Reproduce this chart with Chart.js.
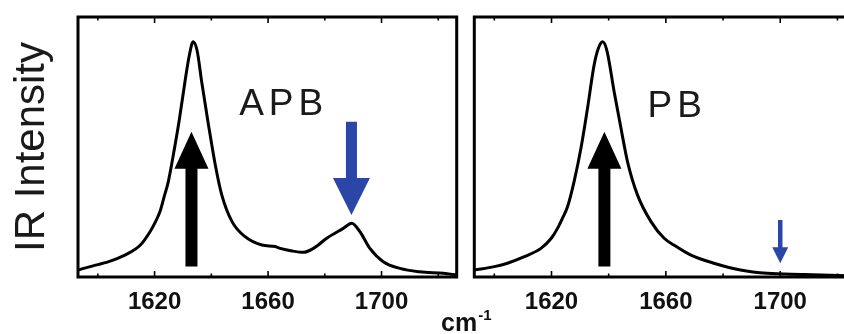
<!DOCTYPE html>
<html>
<head>
<meta charset="utf-8">
<script src="https://cdn.jsdelivr.net/npm/chart.js@4.4.0/dist/chart.umd.min.js"></script>
<style>
  body { margin: 0; background: #fff; overflow: hidden; width: 844px; height: 334px; position: relative; }
  #leftBox { position: absolute; left: 0; top: 0; width: 466px; height: 334px; }
  #rightBox { position: absolute; left: 466px; top: 0; width: 400px; height: 334px; }
  #xTitle { position: absolute; left: 441px; top: 310px; font: bold 25px "Liberation Sans", Arial, sans-serif; line-height: 25px; color: #111; white-space: nowrap; }
  #xTitle sup { font-size: 15px; vertical-align: baseline; position: relative; top: -11px; margin-left: 1px; }
</style>
</head>
<body>
<div id="leftBox"><canvas id="apbChart"></canvas></div>
<div id="rightBox"><canvas id="pbChart"></canvas></div>
<div id="xTitle">cm<sup>-1</sup></div>
<script>
const xMin = 1593;
const xMax = 1726.5;
const tickValues = [1600, 1620, 1640, 1660, 1680, 1700, 1720];
const tickLabels = [1620, 1660, 1700];

// APB spectrum (left panel)
const apbWavenumber = [1593, 1598, 1603.8, 1609.7, 1615.0, 1618.5, 1620.2, 1622.0, 1623.4, 1624.8,
  1626.9, 1628.7, 1630.8, 1632.2, 1633.6, 1635.0, 1636.6, 1639.0, 1641.4, 1643.7,
  1647.3, 1651.9, 1657.8, 1662.5, 1664.3, 1668.5, 1672.5, 1676.0, 1680.7, 1686.5,
  1689.5, 1692.4, 1695.9, 1700.6, 1706.5, 1713.5, 1721.8, 1726.5];
const apbIntensity = [0.027, 0.042, 0.059, 0.085, 0.123, 0.176, 0.21, 0.255, 0.31, 0.365,
  0.488, 0.604, 0.758, 0.85, 0.905, 0.87, 0.751, 0.585, 0.431, 0.315,
  0.213, 0.155, 0.123, 0.117, 0.110, 0.100, 0.095, 0.110, 0.149, 0.187,
  0.207, 0.174, 0.110, 0.059, 0.033, 0.020, 0.014, 0.008];

// PB spectrum (right panel)
const pbWavenumber = [1593, 1600, 1604.6, 1610.5, 1616.3, 1620.0, 1622.1, 1623.7, 1625.6, 1627.9,
  1630.3, 1632.6, 1634.9, 1636.4, 1637.9, 1639.4, 1641.9, 1644.3, 1646.6, 1650.1,
  1654.8, 1659.4, 1662.8, 1668.6, 1676.8, 1686.1, 1695.4, 1708.3, 1726.5];
const pbIntensity = [0.027, 0.040, 0.053, 0.078, 0.110, 0.150, 0.187, 0.223, 0.27, 0.367,
  0.495, 0.649, 0.815, 0.88, 0.905, 0.87, 0.713, 0.572, 0.443, 0.315,
  0.213, 0.149, 0.123, 0.085, 0.053, 0.027, 0.014, 0.010, 0.004];

// arrows: wavenumber, tail height, tip height
const apbArrowX = [1633.0, 1689.4];
const apbArrowTail = [0.04, 0.597];
const apbArrowTip = [0.559, 0.238];
const pbArrowX = [1638.5, 1700];
const pbArrowTail = [0.04, 0.219];
const pbArrowTip = [0.559, 0.053];

// panel names and where they sit
const panelLabels = ["APB", "PB"];
const panelLabelX = [1665.5, 1664.0];
const panelLabelY = [0.623, 0.615];

Chart.defaults.font.family = "'Liberation Sans', Arial, sans-serif";

const blackArrow = { color: "#000", shaft: 12, head: 34, headLen: 37 };
const blueArrow = { color: "#2a47a8", shaft: 11, head: 37, headLen: 37 };
const smallBlueArrow = { color: "#2a47a8", shaft: 4.5, head: 16, headLen: 16 };

function drawArrow(ctx, x, yTail, yTip, s) {
  const dir = yTip < yTail ? -1 : 1;
  const yBase = yTip - dir * s.headLen;
  ctx.beginPath();
  ctx.moveTo(x - s.shaft / 2, yTail);
  ctx.lineTo(x - s.shaft / 2, yBase);
  ctx.lineTo(x - s.head / 2, yBase);
  ctx.lineTo(x, yTip);
  ctx.lineTo(x + s.head / 2, yBase);
  ctx.lineTo(x + s.shaft / 2, yBase);
  ctx.lineTo(x + s.shaft / 2, yTail);
  ctx.closePath();
  ctx.fillStyle = s.color;
  ctx.fill();
}

// box frame with inward ticks, panel name and arrows
const panelDecor = {
  id: "panelDecor",
  afterDatasetsDraw(chart, args, opts) {
    const ctx = chart.ctx;
    const area = chart.chartArea;
    const xs = chart.scales.x;
    const ys = chart.scales.y;
    ctx.save();

    ctx.strokeStyle = "#000";
    ctx.lineWidth = 1.6;
    tickValues.forEach((v) => {
      const px = xs.getPixelForValue(v);
      const len = tickLabels.includes(v) ? 6 : 3.5;
      ctx.beginPath();
      ctx.moveTo(px, area.bottom);
      ctx.lineTo(px, area.bottom - len);
      ctx.moveTo(px, area.top);
      ctx.lineTo(px, area.top + len);
      ctx.stroke();
    });

    ctx.lineWidth = 3;
    ctx.strokeRect(area.left, area.top, area.right - area.left, area.bottom - area.top);

    ctx.font = "37px 'Liberation Sans', Arial, sans-serif";
    ctx.letterSpacing = "5px";
    ctx.fillStyle = "#1a1a1a";
    ctx.textAlign = "center";
    ctx.textBaseline = "alphabetic";
    ctx.fillText(opts.label, xs.getPixelForValue(opts.labelX), ys.getPixelForValue(opts.labelY));

    opts.arrowX.forEach((ax, i) => {
      drawArrow(ctx, xs.getPixelForValue(ax), ys.getPixelForValue(opts.arrowTail[i]),
        ys.getPixelForValue(opts.arrowTip[i]), opts.arrowStyle[i]);
    });
    ctx.restore();
  },
};

function makeChart(canvasId, wavenumber, intensity, decor, isLeft) {
  const points = wavenumber.map((w, i) => ({ x: w, y: intensity[i] }));
  return new Chart(document.getElementById(canvasId), {
    type: "line",
    data: {
      datasets: [
        {
          data: points,
          borderColor: "#000",
          borderWidth: 3,
          pointRadius: 0,
          cubicInterpolationMode: "monotone",
          fill: false,
        },
      ],
    },
    options: {
      responsive: true,
      maintainAspectRatio: false,
      animation: false,
      layout: {
        padding: isLeft
          ? { top: 17, right: 9.3, bottom: 0, left: 0 }
          : { top: 17, right: 10, bottom: 0, left: 8.3 },
      },
      plugins: {
        legend: { display: false },
        tooltip: { enabled: false },
        panelDecor: decor,
      },
      scales: {
        x: {
          type: "linear",
          min: xMin,
          max: xMax,
          grid: { display: false },
          border: { display: false },
          ticks: {
            stepSize: 20,
            autoSkip: false,
            maxRotation: 0,
            padding: 3,
            color: "#111",
            font: { size: 24, weight: "bold" },
            callback: (v) => (tickLabels.includes(v) ? String(v) : ""),
          },
          afterFit: (s) => {
            s.height = 57;
          },
        },
        y: {
          min: 0,
          max: 1,
          display: isLeft,
          grid: { display: false },
          border: { display: false },
          ticks: { display: false },
          title: {
            display: true,
            text: "IR Intensity",
            color: "#1a1a1a",
            font: { size: 42, lineHeight: 1 },
            padding: { top: 11.5, bottom: 0 },
          },
          afterFit: (s) => {
            s.width = isLeft ? 78 : 0;
          },
        },
      },
    },
    plugins: [panelDecor],
  });
}

document.addEventListener("DOMContentLoaded", function () {
  makeChart("apbChart", apbWavenumber, apbIntensity, {
    label: panelLabels[0],
    labelX: panelLabelX[0],
    labelY: panelLabelY[0],
    arrowX: apbArrowX,
    arrowTail: apbArrowTail,
    arrowTip: apbArrowTip,
    arrowStyle: [blackArrow, blueArrow],
  }, true);
  makeChart("pbChart", pbWavenumber, pbIntensity, {
    label: panelLabels[1],
    labelX: panelLabelX[1],
    labelY: panelLabelY[1],
    arrowX: pbArrowX,
    arrowTail: pbArrowTail,
    arrowTip: pbArrowTip,
    arrowStyle: [blackArrow, smallBlueArrow],
  }, false);
});
</script>
</body>
</html>
